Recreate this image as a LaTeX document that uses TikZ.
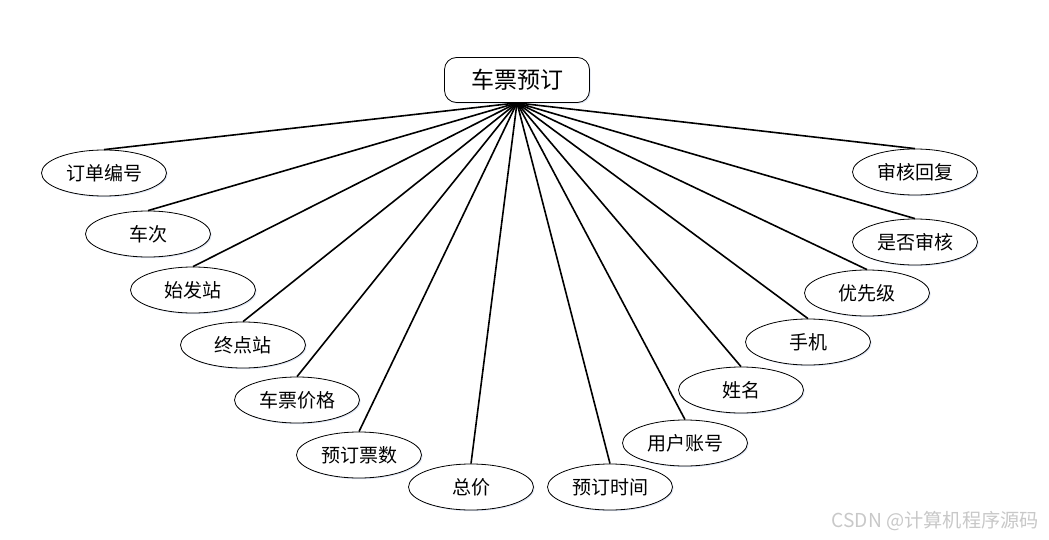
\documentclass[tikz,border=0pt]{standalone}
\usepackage{fontspec}
\usepackage{tikz}
\usetikzlibrary{positioning,shapes.geometric,shadows}
\newfontfamily\cjk{Noto Sans CJK SC}
\definecolor{glowcol}{HTML}{C9D6EE}
\definecolor{markcol}{HTML}{C8C8C8}

\begin{document}
\begin{tikzpicture}[
  x=0.5pt, y=-0.5pt,
  rootnode/.style={draw, rounded corners=6pt, minimum width=72.5pt, minimum height=22.5pt,
                   font=\cjk\fontsize{11.5}{13}\selectfont, inner sep=2pt, fill=white,
                   general shadow={fill=glowcol, opacity=0.6, shadow xshift=0.6pt, shadow yshift=-0.6pt}},
  attrnode/.style={draw, ellipse, minimum width=62.5pt, minimum height=23pt, inner sep=1pt,
                   font=\cjk\fontsize{9.5}{11}\selectfont, fill=white,
                   general shadow={fill=glowcol, opacity=0.6, shadow xshift=0.6pt, shadow yshift=-0.6pt}},
  link/.style={thick, black},
  marktext/.style={font=\cjk\fontsize{9.6}{11}\selectfont, text=markcol, anchor=east},
]
\useasboundingbox (0,0) rectangle (1049,540);

\node[rootnode] (BOOK) at (517,80) {车票预订};

% attributes
\foreach \name/\xpos/\ypos/\txt in {
  ORDERNO/104/173/订单编号, TRAIN/148/234/车次, FROM/193/290/始发站,
  TO/243/345/终点站, PRICE/297/400/车票价格, COUNT/359/455/预订票数,
  TOTAL/471/487/总价, TIME/610/487/预订时间, ACCOUNT/685/443/用户账号,
  NAME/741/390/姓名, PHONE/808/342/手机, PRIO/867/293/优先级,
  CHECKED/915/242/是否审核, REPLY/915/172/审核回复
}{
  \node[attrnode] (\name) at (\xpos,\ypos) {\txt};
}

\foreach \dst in {ORDERNO, TRAIN, FROM, TO, PRICE, COUNT, TOTAL,
                  TIME, ACCOUNT, NAME, PHONE, PRIO, CHECKED, REPLY}{
  \draw[link] (BOOK.south) -- (\dst.north);
}

\node[marktext] (MARK) at (1046,521) {CSDN @计算机程序源码};

\end{tikzpicture}
\end{document}
